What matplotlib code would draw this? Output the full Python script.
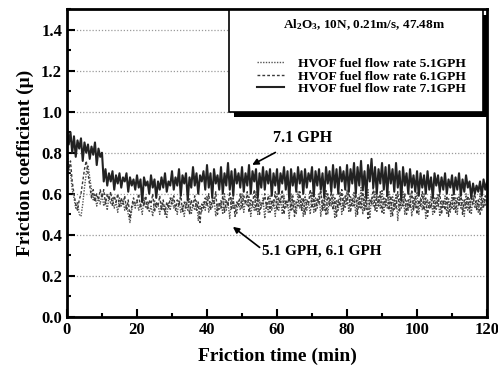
import numpy as np
import matplotlib
matplotlib.use("Agg")
import matplotlib.pyplot as plt
from matplotlib.ticker import MultipleLocator
from matplotlib.patches import Rectangle

plt.rcParams['font.family'] = 'Liberation Serif'
plt.rcParams['font.weight'] = 'bold'
plt.rcParams['mathtext.fontset'] = 'custom'
plt.rcParams['mathtext.rm'] = 'Liberation Serif:bold'
plt.rcParams['mathtext.it'] = 'Liberation Serif:bold'
plt.rcParams['mathtext.bf'] = 'Liberation Serif:bold'

# sampling every 0.5 min, 0..120
time_min = np.arange(0, 120.5, 0.5)

# HVOF fuel flow rate 7.1 GPH (solid)
mu_71 = [
    0.92, 0.84, 0.90, 0.80, 0.88, 0.78, 0.86, 0.82, 0.87, 0.76, 0.85, 0.80, 0.84, 0.77, 0.83, 0.79, 0.85, 0.74, 0.82, 0.78,
    0.80, 0.66, 0.72, 0.64, 0.70, 0.66, 0.71, 0.62, 0.69, 0.65, 0.70, 0.63, 0.68, 0.66, 0.70, 0.61, 0.68, 0.64, 0.67, 0.62,
    0.69, 0.63, 0.67, 0.56, 0.68, 0.64, 0.66, 0.60, 0.69, 0.63, 0.67, 0.58, 0.66, 0.62, 0.68, 0.63, 0.70, 0.61, 0.66, 0.64,
    0.71, 0.62, 0.68, 0.64, 0.72, 0.59, 0.69, 0.65, 0.70, 0.57, 0.68, 0.63, 0.73, 0.64, 0.70, 0.60, 0.69, 0.66, 0.71, 0.62,
    0.74, 0.63, 0.70, 0.58, 0.72, 0.65, 0.69, 0.62, 0.73, 0.60, 0.70, 0.64, 0.75, 0.62, 0.71, 0.59, 0.72, 0.65, 0.70, 0.63,
    0.73, 0.61, 0.70, 0.64, 0.74, 0.60, 0.71, 0.66, 0.72, 0.58, 0.70, 0.63, 0.73, 0.62, 0.71, 0.65, 0.72, 0.59, 0.70, 0.64,
    0.72, 0.60, 0.70, 0.65, 0.73, 0.62, 0.71, 0.57, 0.72, 0.64, 0.70, 0.61, 0.73, 0.65, 0.71, 0.60, 0.72, 0.63, 0.70, 0.66,
    0.73, 0.59, 0.71, 0.64, 0.72, 0.62, 0.70, 0.58, 0.73, 0.65, 0.71, 0.61, 0.74, 0.63, 0.72, 0.60, 0.73, 0.66, 0.71, 0.62,
    0.74, 0.61, 0.72, 0.65, 0.75, 0.60, 0.73, 0.64, 0.76, 0.62, 0.71, 0.58, 0.74, 0.66, 0.77, 0.63, 0.73, 0.60, 0.72, 0.65,
    0.75, 0.62, 0.73, 0.59, 0.74, 0.65, 0.72, 0.61, 0.75, 0.63, 0.71, 0.57, 0.73, 0.64, 0.70, 0.60, 0.72, 0.63, 0.69, 0.61,
    0.71, 0.59, 0.70, 0.63, 0.69, 0.60, 0.71, 0.62, 0.68, 0.58, 0.70, 0.64, 0.69, 0.61, 0.68, 0.62, 0.70, 0.60, 0.67, 0.63,
    0.69, 0.60, 0.68, 0.62, 0.70, 0.59, 0.67, 0.61, 0.69, 0.63, 0.66, 0.58, 0.65, 0.60, 0.64, 0.61, 0.66, 0.59, 0.67, 0.62,
    0.66,
]

# HVOF fuel flow rate 5.1 GPH (dotted)
mu_51 = [
    0.80, 0.74, 0.70, 0.62, 0.58, 0.53, 0.56, 0.50, 0.49, 0.55, 0.63, 0.70, 0.74, 0.68, 0.62, 0.57, 0.60, 0.54, 0.58, 0.55,
    0.60, 0.54, 0.57, 0.52, 0.59, 0.55, 0.58, 0.53, 0.56, 0.51, 0.58, 0.54, 0.57, 0.52, 0.55, 0.50, 0.46, 0.52, 0.56, 0.53,
    0.57, 0.52, 0.55, 0.50, 0.58, 0.53, 0.56, 0.51, 0.54, 0.49, 0.57, 0.53, 0.55, 0.50, 0.56, 0.52, 0.54, 0.48, 0.56, 0.52,
    0.58, 0.53, 0.55, 0.50, 0.57, 0.51, 0.54, 0.49, 0.56, 0.52, 0.58, 0.50, 0.55, 0.52, 0.57, 0.47, 0.54, 0.51, 0.56, 0.52,
    0.59, 0.51, 0.56, 0.53, 0.58, 0.49, 0.55, 0.52, 0.57, 0.50, 0.60, 0.52, 0.56, 0.48, 0.58, 0.53, 0.55, 0.50, 0.57, 0.52,
    0.60, 0.51, 0.57, 0.54, 0.59, 0.49, 0.56, 0.52, 0.61, 0.50, 0.57, 0.53, 0.58, 0.48, 0.56, 0.51, 0.59, 0.52, 0.57, 0.49,
    0.60, 0.52, 0.58, 0.50, 0.59, 0.53, 0.56, 0.48, 0.60, 0.52, 0.57, 0.50, 0.61, 0.53, 0.58, 0.49, 0.59, 0.52, 0.56, 0.50,
    0.61, 0.51, 0.58, 0.53, 0.60, 0.49, 0.57, 0.52, 0.62, 0.50, 0.58, 0.54, 0.60, 0.48, 0.57, 0.52, 0.61, 0.50, 0.58, 0.53,
    0.62, 0.51, 0.59, 0.54, 0.61, 0.49, 0.58, 0.53, 0.63, 0.50, 0.59, 0.52, 0.62, 0.48, 0.58, 0.54, 0.61, 0.51, 0.59, 0.53,
    0.62, 0.50, 0.58, 0.53, 0.61, 0.49, 0.59, 0.52, 0.60, 0.47, 0.58, 0.53, 0.61, 0.50, 0.57, 0.52, 0.60, 0.49, 0.58, 0.53,
    0.61, 0.50, 0.58, 0.52, 0.60, 0.48, 0.57, 0.53, 0.59, 0.50, 0.58, 0.52, 0.60, 0.49, 0.57, 0.53, 0.59, 0.50, 0.58, 0.51,
    0.60, 0.52, 0.58, 0.50, 0.59, 0.53, 0.57, 0.49, 0.60, 0.52, 0.58, 0.50, 0.59, 0.53, 0.57, 0.51, 0.60, 0.52, 0.58, 0.54,
    0.57,
]

# HVOF fuel flow rate 6.1 GPH (dashed)
mu_61 = [
    0.78, 0.72, 0.76, 0.66, 0.60, 0.55, 0.52, 0.57, 0.60, 0.66, 0.72, 0.76, 0.70, 0.64, 0.58, 0.62, 0.56, 0.60, 0.57, 0.62,
    0.58, 0.62, 0.55, 0.60, 0.57, 0.61, 0.54, 0.59, 0.56, 0.60, 0.53, 0.58, 0.55, 0.59, 0.52, 0.57, 0.48, 0.54, 0.58, 0.55,
    0.56, 0.60, 0.53, 0.58, 0.54, 0.59, 0.52, 0.57, 0.55, 0.60, 0.51, 0.56, 0.54, 0.59, 0.52, 0.57, 0.50, 0.56, 0.53, 0.58,
    0.55, 0.59, 0.52, 0.57, 0.54, 0.60, 0.51, 0.56, 0.53, 0.58, 0.50, 0.57, 0.54, 0.59, 0.52, 0.56, 0.46, 0.55, 0.53, 0.58,
    0.54, 0.60, 0.52, 0.57, 0.55, 0.61, 0.50, 0.56, 0.53, 0.59, 0.51, 0.57, 0.54, 0.61, 0.52, 0.58, 0.49, 0.56, 0.54, 0.60,
    0.53, 0.59, 0.55, 0.61, 0.51, 0.57, 0.54, 0.62, 0.52, 0.58, 0.50, 0.56, 0.55, 0.60, 0.53, 0.59, 0.51, 0.57, 0.54, 0.61,
    0.52, 0.58, 0.55, 0.62, 0.50, 0.57, 0.54, 0.60, 0.52, 0.59, 0.49, 0.56, 0.54, 0.61, 0.52, 0.58, 0.50, 0.57, 0.55, 0.62,
    0.53, 0.59, 0.51, 0.58, 0.55, 0.63, 0.52, 0.57, 0.50, 0.60, 0.54, 0.61, 0.52, 0.58, 0.49, 0.57, 0.54, 0.62, 0.52, 0.59,
    0.55, 0.63, 0.51, 0.58, 0.54, 0.61, 0.50, 0.59, 0.53, 0.62, 0.52, 0.58, 0.48, 0.57, 0.55, 0.63, 0.52, 0.59, 0.54, 0.61,
    0.51, 0.58, 0.54, 0.62, 0.52, 0.59, 0.49, 0.57, 0.53, 0.61, 0.51, 0.58, 0.54, 0.60, 0.50, 0.57, 0.53, 0.62, 0.52, 0.59,
    0.50, 0.57, 0.54, 0.61, 0.52, 0.58, 0.49, 0.56, 0.53, 0.60, 0.51, 0.58, 0.54, 0.61, 0.50, 0.57, 0.52, 0.59, 0.49, 0.56,
    0.53, 0.60, 0.51, 0.58, 0.54, 0.61, 0.50, 0.57, 0.53, 0.59, 0.51, 0.58, 0.55, 0.60, 0.52, 0.57, 0.50, 0.58, 0.53, 0.59,
    0.55,
]

labels = ['HVOF fuel flow rate 5.1GPH', 'HVOF fuel flow rate 6.1GPH', 'HVOF fuel flow rate 7.1GPH']

fig = plt.figure(figsize=(4.98, 3.74), dpi=100)
ax = fig.add_axes([0.1345, 0.1524, 0.8435, 0.8236])

for y in [0.2, 0.4, 0.6, 0.8, 1.0, 1.2, 1.4]:
    ax.axhline(y, color='#9a9a9a', lw=0.9, ls=(0, (1, 1.5)), zorder=0)

ax.plot(time_min, mu_51, color='#555555', lw=1.0, ls=(0, (1, 1)), label=labels[0])
ax.plot(time_min, mu_61, color='#3a3a3a', lw=1.0, ls=(0, (2, 1.5)), label=labels[1])
ax.plot(time_min, mu_71, color='#222222', lw=1.5, ls='-', label=labels[2])

ax.set_xlim(0, 120)
ax.set_ylim(0, 1.5)
ax.xaxis.set_major_locator(MultipleLocator(20))
ax.xaxis.set_minor_locator(MultipleLocator(10))
ax.yaxis.set_major_locator(MultipleLocator(0.2))
ax.yaxis.set_minor_locator(MultipleLocator(0.1))
ax.tick_params(which='both', direction='in', width=1.5, labelsize=12)
ax.tick_params(which='major', length=6)
ax.tick_params(which='minor', length=3)
ax.set_yticks([0.0, 0.2, 0.4, 0.6, 0.8, 1.0, 1.2, 1.4])
ax.yaxis.set_major_formatter(plt.FuncFormatter(lambda v, p: f"{v:.1f}"))
ax.xaxis.set_major_formatter(plt.FuncFormatter(lambda v, p: f"{v:.0f}"))
for s in ax.spines.values():
    s.set_linewidth(2)

ax.set_xlabel('Friction time (min)', fontsize=14, fontweight='bold', labelpad=7)
ax.set_ylabel('Friction coefficient (\u03bc)', fontsize=14, fontweight='bold', labelpad=5)

# legend box with shadow, drawn in axes coordinates
box_x0, box_x1, box_y0, box_y1 = 0.386, 0.990, 0.666, 0.997
ax.add_patch(Rectangle((box_x0 + 0.012, box_y0 - 0.016), box_x1 - box_x0, box_y1 - box_y0,
                       transform=ax.transAxes, facecolor='k', edgecolor='none',
                       clip_on=False, zorder=4))
ax.add_patch(Rectangle((box_x0, box_y0), box_x1 - box_x0, box_y1 - box_y0,
                       transform=ax.transAxes, facecolor='white', edgecolor='k', lw=1.2,
                       clip_on=False, zorder=5))
ax.text(0.708, 0.948, 'Al$_2$O$_3$, 10N, 0.21m/s, 47.48m', transform=ax.transAxes,
        ha='center', va='center', fontsize=9.5, fontweight='bold', zorder=6)
leg = ax.legend(loc='upper left', bbox_to_anchor=(0.453, 0.842), borderaxespad=0, borderpad=0,
                prop={'size': 9.7, 'weight': 'bold'}, frameon=False,
                handlelength=2.0, handletextpad=1.0, labelspacing=0.0)
leg.set_zorder(7)

ax.annotate('7.1 GPH', xy=(52.9, 0.741), xytext=(67.4, 0.873), ha='center', va='center',
            fontsize=11.5, fontweight='bold',
            arrowprops=dict(arrowstyle='-|>', color='k', lw=1.2, shrinkA=6, shrinkB=0, mutation_scale=9))
ax.annotate('5.1 GPH, 6.1 GPH', xy=(47.4, 0.439), xytext=(72.9, 0.322), ha='center', va='center',
            fontsize=11, fontweight='bold',
            arrowprops=dict(arrowstyle='-|>', color='k', lw=1.2, shrinkA=0, shrinkB=0, mutation_scale=9,
                            relpos=(0, 0.6)))

fig.savefig('out.png', dpi=100)
